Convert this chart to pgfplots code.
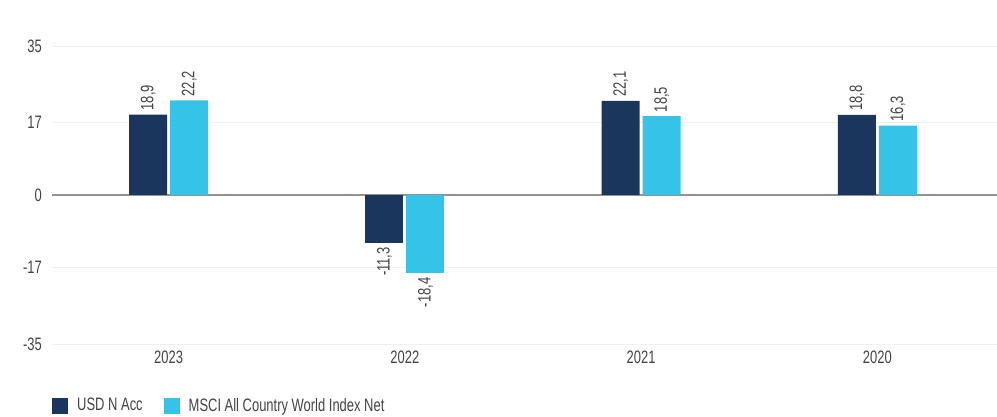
\documentclass[border=0pt]{standalone}
\usepackage{fontspec}
\setmainfont{Liberation Sans}[FakeStretch=0.72]
\usepackage{pgfplots}
\pgfplotsset{compat=1.18}
\usepackage{pgfplotstable}

\definecolor{navy}{HTML}{1B365D}
\definecolor{sky}{HTML}{35C4E8}
\definecolor{txt}{HTML}{444444}

% returns, split by sign so the labels sit at the outer end of each bar
\pgfplotstableread{
x y
0 18.9
2 22.1
3 18.8
}\usdpos
\pgfplotstableread{
x y
1 -11.3
}\usdneg
\pgfplotstableread{
x y
0 22.2
2 18.5
3 16.3
}\mscipos
\pgfplotstableread{
x y
1 -18.4
}\mscineg

\begin{document}
\fontsize{18}{21}\selectfont
\begin{tikzpicture}
\useasboundingbox (-52pt,-73pt) rectangle (945pt,344pt);
\begin{axis}[
  at={(0,0)}, anchor=south west,
  scale only axis, width=945pt, height=298pt,
  ybar, bar width=38pt,
  xmin=-0.5, xmax=3.5, ymin=-35, ymax=35,
  xtick={0,1,2,3}, xticklabels={2023,2022,2021,2020},
  ytick={-35,-17,17,35},
  extra y ticks={0},
  extra y tick style={grid style={draw=gray!85, line width=2pt}},
  ymajorgrids, grid style={draw=gray!12, line width=0.8pt},
  axis line style={draw=none},
  major tick length=0pt,
  tick label style={font=\fontsize{18}{21}\selectfont, text=txt},
  /pgf/number format/assume math mode=true,
  yticklabel style={inner sep=0pt, xshift=-10pt},
  xticklabel style={inner sep=0pt, yshift=-7pt, xshift=-1.5pt},
  nodes near coords,
  every node near coord/.append style={rotate=90, inner sep=4pt,
    font=\fontsize{18}{21}\selectfont, text=txt,
    /pgf/number format/fixed, /pgf/number format/fixed zerofill,
    /pgf/number format/precision=1, /pgf/number format/use comma},
  pos/.style={every node near coord/.append style={anchor=west}},
  neg/.style={every node near coord/.append style={anchor=east}},
  legend style={at={(0,-0.208)}, anchor=west, draw=none, fill=none, inner sep=0pt,
    font=\fontsize{18}{21}\selectfont, text=txt,
    /tikz/every odd column/.append style={column sep=7pt},
    /tikz/every even column/.append style={column sep=19pt}},
  legend columns=2, legend cell align=left,
]
\addplot[fill=navy, draw=none, bar shift=-22pt, pos,
  legend image code/.code={\fill[navy] (0pt,-8pt) rectangle (16pt,8pt);}]
  table[x=x, y=y] {\usdpos};
\addlegendentry{USD N Acc}
\addplot[fill=sky, draw=none, bar shift=19pt, pos,
  legend image code/.code={\fill[sky] (0pt,-8pt) rectangle (16pt,8pt);}]
  table[x=x, y=y] {\mscipos};
\addlegendentry{MSCI All Country World Index Net}
\addplot[fill=navy, draw=none, bar shift=-22pt, neg, forget plot]
  table[x=x, y=y] {\usdneg};
\addplot[fill=sky, draw=none, bar shift=19pt, neg, forget plot]
  table[x=x, y=y] {\mscineg};
\end{axis}
\end{tikzpicture}
\end{document}
